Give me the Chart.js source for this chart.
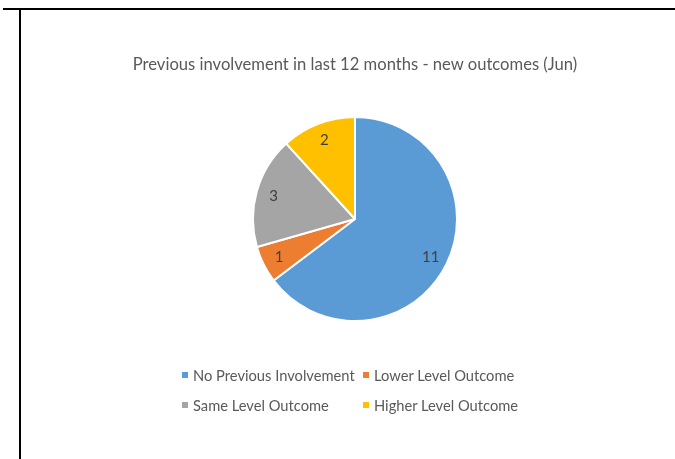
<!DOCTYPE html>
<html>
<head>
<meta charset="utf-8">
<script src="https://cdn.jsdelivr.net/npm/chart.js@4/dist/chart.umd.min.js"></script>
<style>
  html, body { margin:0; padding:0; background:#fff; }
  #wrap { position:relative; width:675px; height:459px; overflow:hidden; background:#fff; }
  #c { position:absolute; left:0; top:0; }
  .hline { position:absolute; left:3px; top:8px; width:672px; height:2px; background:#000; }
  .vline { position:absolute; left:19px; top:9px; width:2px; height:450px; background:#000; }
  #title { position:absolute; left:0; width:710px; top:54px; text-align:center; font-family:Lato, "Open Sans", sans-serif; font-size:16.6px; color:#595959; white-space:nowrap; }
  #legend { position:absolute; left:182px; top:365px; display:grid; grid-template-columns:181px auto; row-gap:10px; font-family:Lato, "Open Sans", sans-serif; font-size:14.7px; color:#595959; }
  .item { display:flex; align-items:center; height:20px; white-space:nowrap; }
  .sw { width:6px; height:6px; margin-right:5px; flex:none; }
</style>
</head>
<body>
<div id="wrap">
  <canvas id="c" width="675" height="459"></canvas>
  <div class="hline"></div>
  <div class="vline"></div>
  <div id="title"></div>
  <div id="legend"></div>
</div>
<script>
const chartTitle = "Previous involvement in last 12 months - new outcomes (Jun)";
const categories = ["No Previous Involvement", "Lower Level Outcome", "Same Level Outcome", "Higher Level Outcome"];
const values = [11, 1, 3, 2];
const colors = ["#5B9BD5", "#ED7D31", "#A5A5A5", "#FFC000"];

document.getElementById('title').textContent = chartTitle;
const leg = document.getElementById('legend');
categories.forEach((name, i) => {
  const it = document.createElement('div');
  it.className = 'item';
  const sw = document.createElement('span');
  sw.className = 'sw';
  sw.style.background = colors[i];
  const tx = document.createElement('span');
  tx.textContent = name;
  it.appendChild(sw); it.appendChild(tx);
  leg.appendChild(it);
});

const valueLabels = {
  id: 'valueLabels',
  afterDatasetsDraw(chart) {
    const ctx = chart.ctx;
    const meta = chart.getDatasetMeta(0);
    ctx.save();
    ctx.font = '15px Lato, "Open Sans", sans-serif';
    ctx.fillStyle = '#404040';
    ctx.textAlign = 'center';
    ctx.textBaseline = 'middle';
    meta.data.forEach((arc, i) => {
      const p = arc.getProps(['x','y','startAngle','endAngle','outerRadius'], true);
      const mid = (p.startAngle + p.endAngle) / 2;
      const r = p.outerRadius * 0.83;
      ctx.fillText(String(values[i]), p.x + Math.cos(mid) * r, p.y + Math.sin(mid) * r);
    });
    ctx.restore();
  }
};

new Chart(document.getElementById('c'), {
  type: 'pie',
  data: {
    labels: categories,
    datasets: [{
      data: values,
      backgroundColor: colors,
      borderColor: '#ffffff',
      borderWidth: 2,
      hoverOffset: 0
    }]
  },
  options: {
    responsive: false,
    animation: false,
    events: [],
    layout: { padding: { top: 116, bottom: 137, left: 200, right: 165 } },
    plugins: {
      legend: { display: false },
      title: { display: false },
      tooltip: { enabled: false }
    }
  },
  plugins: [valueLabels]
});
</script>
</body>
</html>
